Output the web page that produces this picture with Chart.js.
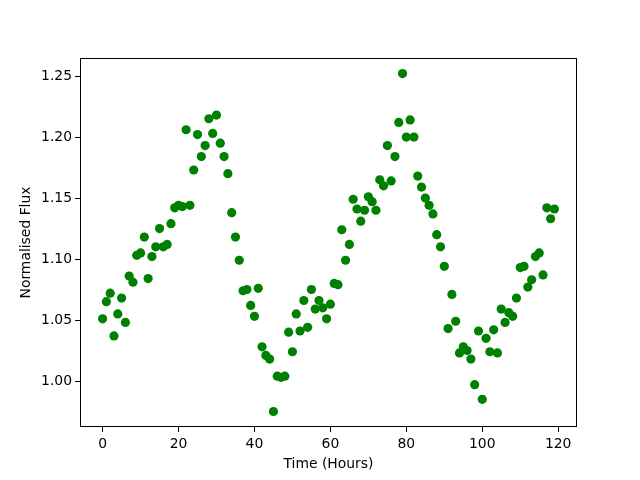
<!DOCTYPE html>
<html>
<head>
<meta charset="utf-8">
<script src="https://cdn.jsdelivr.net/npm/chart.js@4.4.1/dist/chart.umd.min.js"></script>
<style>
html,body{margin:0;padding:0;background:#fff;}
#wrap{width:640px;height:480px;}
</style>
</head>
<body>
<div id="wrap"><canvas id="c" width="640" height="480"></canvas></div>
<script>
const hours = Array.from({length:120},(_,i)=>i);
const flux = [
1.051,1.065,1.072,1.037,1.055,1.068,1.048,1.086,1.081,1.103,
1.105,1.118,1.084,1.102,1.110,1.125,1.110,1.112,1.129,1.142,
1.144,1.143,1.206,1.144,1.173,1.202,1.184,1.193,1.215,1.203,
1.218,1.195,1.184,1.170,1.138,1.118,1.099,1.074,1.075,1.062,
1.053,1.076,1.028,1.021,1.018,0.975,1.004,1.003,1.004,1.040,
1.024,1.055,1.041,1.066,1.044,1.075,1.059,1.066,1.060,1.051,
1.063,1.080,1.079,1.124,1.099,1.112,1.149,1.141,1.131,1.140,
1.151,1.147,1.140,1.165,1.160,1.193,1.164,1.184,1.212,1.252,
1.200,1.214,1.200,1.168,1.159,1.150,1.144,1.137,1.120,1.110,
1.094,1.043,1.071,1.049,1.023,1.028,1.025,1.018,0.997,1.041,
0.985,1.035,1.024,1.042,1.023,1.059,1.048,1.056,1.053,1.068,
1.093,1.094,1.077,1.083,1.102,1.105,1.087,1.142,1.133,1.141
];
const xTicks = [0,20,40,60,80,100,120];
const yTicks = [1.00,1.05,1.10,1.15,1.20,1.25];

const FONT = {family:"'DejaVu Sans', sans-serif", size:13.9};

const framePlugin = {
  id:'frame',
  afterDraw(chart){
    const a = chart.chartArea, ctx = chart.ctx;
    ctx.save();
    ctx.strokeStyle = '#000';
    ctx.lineWidth = 1;
    ctx.strokeRect(Math.round(a.left)+0.5, Math.round(a.top)+0.5, Math.round(a.right-a.left)-1, Math.round(a.bottom-a.top)-1);
    ctx.restore();
  }
};

new Chart(document.getElementById('c'), {
  type:'scatter',
  data:{datasets:[{
    data: hours.map((h,i)=>({x:h,y:flux[i]})),
    backgroundColor:'#008000',
    borderColor:'#008000',
    pointRadius:4.6,
    pointHoverRadius:4.6,
    borderWidth:0
  }]},
  options:{
    responsive:false,
    animation:false,
    events:[],
    layout:{padding:{left:0,top:58,right:63,bottom:0}},
    plugins:{legend:{display:false},tooltip:{enabled:false}},
    scales:{
      x:{
        type:'linear',
        min:-5.95, max:124.95,
        afterBuildTicks(s){ s.ticks = xTicks.map(v=>({value:v})); },
        afterFit(s){ s.height = 53; },
        grid:{display:true,drawOnChartArea:false,drawTicks:true,tickLength:5,tickWidth:1,tickColor:'#000'},
        border:{display:false},
        ticks:{color:'#000',font:FONT,padding:4,maxRotation:0,autoSkip:false,callback:v=>String(v)},
        title:{display:true,text:'Time (Hours)',color:'#000',font:FONT,padding:{top:0,bottom:7}}
      },
      y:{
        type:'linear',
        min:0.9623, max:1.2648,
        afterBuildTicks(s){ s.ticks = yTicks.map(v=>({value:v})); },
        afterFit(s){ s.width = 80; },
        grid:{display:true,drawOnChartArea:false,drawTicks:true,tickLength:5,tickWidth:1,tickColor:'#000'},
        border:{display:false},
        ticks:{color:'#000',font:FONT,padding:3,autoSkip:false,callback:v=>v.toFixed(2)},
        title:{display:true,text:'Normalised Flux',color:'#000',font:FONT,padding:{top:18,bottom:0}}
      }
    }
  },
  plugins:[framePlugin]
});
</script>
</body>
</html>
